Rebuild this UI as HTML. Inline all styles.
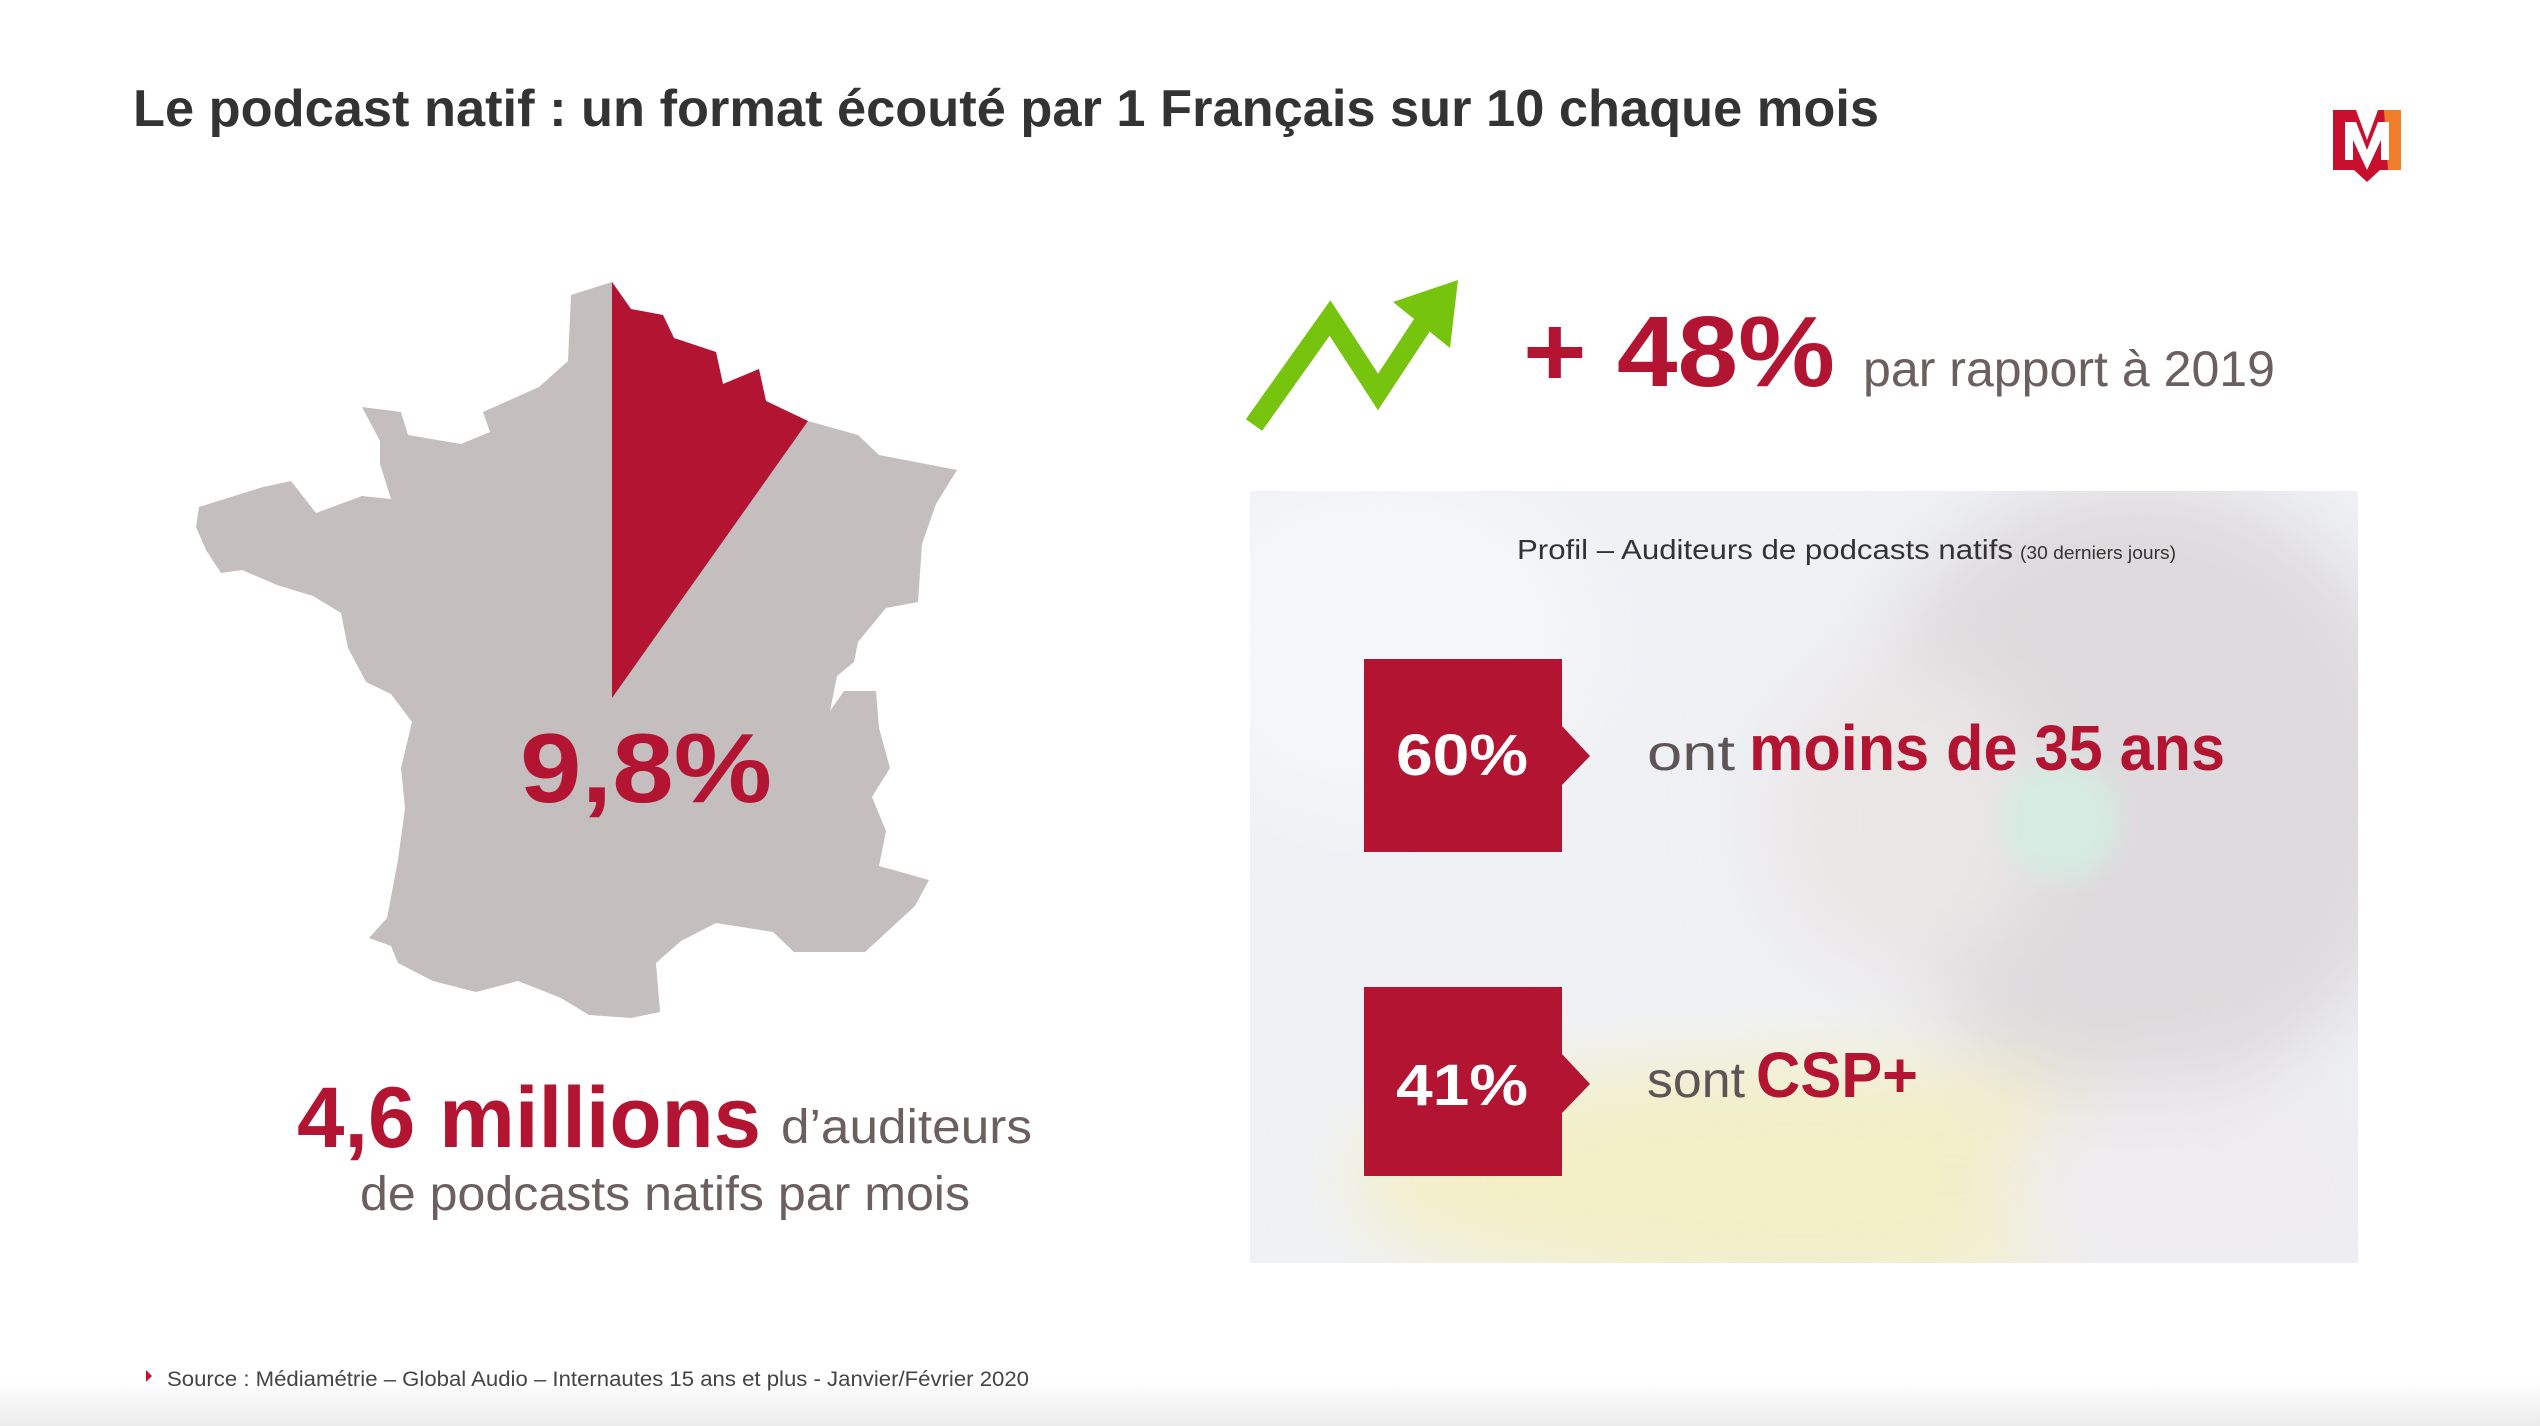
<!DOCTYPE html>
<html><head><meta charset="utf-8"><style>html,body{margin:0;padding:0;background:#fff}svg{display:block}</style></head>
<body>
<svg width="2540" height="1426" viewBox="0 0 2540 1426" xmlns="http://www.w3.org/2000/svg" font-family="Liberation Sans, sans-serif">
<defs>
<filter id="bl" x="-50%" y="-50%" width="200%" height="200%"><feGaussianBlur stdDeviation="40"/></filter>
<filter id="bl2"><feGaussianBlur stdDeviation="12"/></filter>
<clipPath id="pc"><rect x="1250" y="491" width="1108" height="772"/></clipPath>
<linearGradient id="bot" x1="0" y1="0" x2="0" y2="1"><stop offset="0" stop-color="#fff"/><stop offset="1" stop-color="#ececec"/></linearGradient>
</defs>
<rect width="2540" height="1426" fill="#fff"/>
<rect x="0" y="1380" width="2540" height="46" fill="url(#bot)"/>

<text x="133" y="126" font-size="52" font-weight="bold" fill="#333" textLength="1746" lengthAdjust="spacingAndGlyphs">Le podcast natif : un format écouté par 1 Français sur 10 chaque mois</text>

<g>
<path d="M2333 110 L2356 110 L2367 140 L2378 110 L2401 110 L2401 170 L2380 170 L2367 182 L2354 170 L2333 170 Z" fill="#c8102e"/>
<path d="M2384 110 L2401 110 L2401 170 L2388 170 Z" fill="#f07d2a"/>
<path d="M2345 122 L2356 122 L2367 150 L2378 122 L2389 122 L2389 160 L2381 160 L2381 140 L2367 170 L2353 140 L2353 160 L2345 160 Z" fill="#fff"/>
</g>

<g transform="translate(-6,0)">
<polygon fill="#c5bebe" points="618,282 637,309 669,315 680,338 722,352 729,384 765,369 772,401 814,421 864,435 885,455 963,470 942,504 928,544 924,602 892,608 864,642 860,662 843,676 836,711 850,691 882,691 885,728 896,768 878,797 892,831 885,866 935,880 921,906 871,952 800,952 779,932 722,923 687,941 662,963 666,1012 637,1018 595,1015 567,998 524,981 482,992 439,981 404,963 397,946 375,938 393,918 404,860 411,808 407,768 418,722 397,694 372,682 354,648 347,613 319,596 283,585 248,570 227,573 212,550 202,527 205,507 269,487 297,481 322,513 368,496 397,499 386,464 386,441 368,407 407,412 414,435 467,444 496,432 489,412 545,387 574,361 577,295"/>
<polygon fill="#b31432" points="618,282 637,309 669,315 680,338 722,352 729,384 765,369 772,401 814,421 618,698"/>
</g>
<text x="520" y="802" font-size="98" font-weight="bold" fill="#b31432" textLength="252" lengthAdjust="spacingAndGlyphs">9,8%</text>

<text x="297" y="1147" font-size="86" font-weight="bold" fill="#b31432" textLength="464" lengthAdjust="spacingAndGlyphs">4,6 millions</text>
<text x="781" y="1143" font-size="48" fill="#6b5f5f" textLength="251" lengthAdjust="spacingAndGlyphs">d’auditeurs</text>
<text x="360" y="1210" font-size="48" fill="#6b5f5f" textLength="610" lengthAdjust="spacingAndGlyphs">de podcasts natifs par mois</text>

<polyline points="1254,425 1330,318 1378,392 1424,322" fill="none" stroke="#77c40e" stroke-width="20" stroke-linejoin="miter"/>
<polygon points="1458,280 1393,302 1450,348" fill="#77c40e"/>

<text x="1523" y="386" font-size="100" font-weight="bold" fill="#b31432" textLength="312" lengthAdjust="spacingAndGlyphs">+ 48%</text>
<text x="1863" y="386" font-size="50" fill="#6b5f5f" textLength="412" lengthAdjust="spacingAndGlyphs">par rapport à 2019</text>

<g clip-path="url(#pc)">
<rect x="1250" y="491" width="1108" height="772" fill="#eff1f5"/>
<g filter="url(#bl)">
<ellipse cx="2140" cy="790" rx="290" ry="310" fill="#dedadd"/>
<ellipse cx="1900" cy="820" rx="140" ry="160" fill="#ebe6e6"/>
<ellipse cx="1800" cy="1180" rx="450" ry="120" fill="#f3efc6"/>
<ellipse cx="2200" cy="1190" rx="200" ry="110" fill="#eeecf0"/>
<ellipse cx="1380" cy="640" rx="200" ry="160" fill="#f6f7fa"/>
</g>
<ellipse cx="2060" cy="820" rx="60" ry="60" fill="#d6ebe2" filter="url(#bl2)"/>
</g>

<text x="1517" y="559" font-size="28" fill="#333" textLength="496" lengthAdjust="spacingAndGlyphs">Profil – Auditeurs de podcasts natifs</text>
<text x="2020" y="559" font-size="18" fill="#333" textLength="156" lengthAdjust="spacingAndGlyphs">(30 derniers jours)</text>

<polygon fill="#b31432" points="1364,659 1562,659 1562,726 1590,756 1562,785 1562,852 1364,852"/>
<text x="1396" y="775" font-size="58" font-weight="bold" fill="#fff" textLength="132" lengthAdjust="spacingAndGlyphs">60%</text>
<polygon fill="#b31432" points="1364,987 1562,987 1562,1054 1590,1084 1562,1113 1562,1176 1364,1176"/>
<text x="1396" y="1105" font-size="58" font-weight="bold" fill="#fff" textLength="132" lengthAdjust="spacingAndGlyphs">41%</text>

<text x="1647" y="770" font-size="50" fill="#5d5555" textLength="88" lengthAdjust="spacingAndGlyphs">ont</text>
<text x="1749" y="770" font-size="64" font-weight="bold" fill="#b31432" textLength="476" lengthAdjust="spacingAndGlyphs">moins de 35 ans</text>
<text x="1647" y="1097" font-size="50" fill="#5d5555" textLength="98" lengthAdjust="spacingAndGlyphs">sont</text>
<text x="1756" y="1097" font-size="64" font-weight="bold" fill="#b31432" textLength="162" lengthAdjust="spacingAndGlyphs">CSP+</text>

<polygon points="146,1370 152,1376 146,1382" fill="#c8102e"/>
<text x="167" y="1386" font-size="21" fill="#444" textLength="862" lengthAdjust="spacingAndGlyphs">Source : Médiamétrie – Global Audio – Internautes 15 ans et plus - Janvier/Février  2020</text>
</svg>
</body></html>
